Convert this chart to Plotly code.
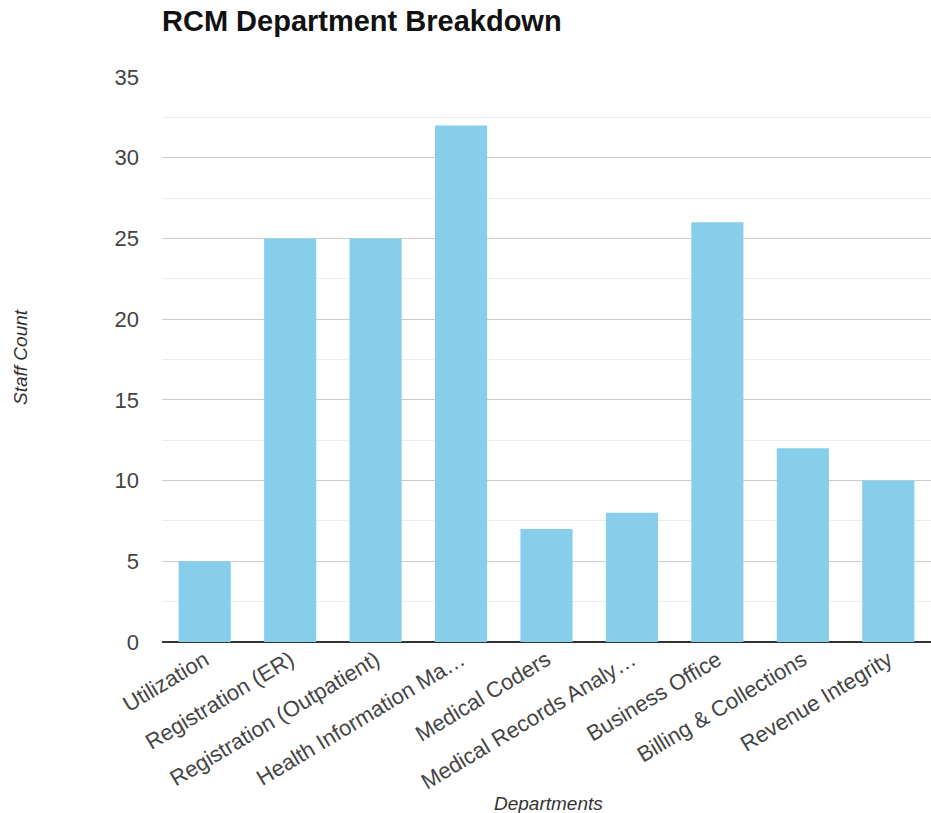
import plotly.graph_objects as go

categories = ["Utilization", "Registration (ER)", "Registration (Outpatient)",
              "Health Information Ma…", "Medical Coders", "Medical Records Analy…",
              "Business Office", "Billing & Collections", "Revenue Integrity"]
staff = [5, 25, 25, 32, 7, 8, 26, 12, 10]
y_ticks = [0, 5, 10, 15, 20, 25, 30, 35]

font_family = "Liberation Sans, Arial, sans-serif"

fig = go.Figure(go.Bar(x=categories, y=staff, marker_color="#87CEEB",
                       marker_line_width=0))

fig.update_layout(
    width=931, height=813,
    margin=dict(l=162, r=0, t=77, b=171),
    paper_bgcolor="white", plot_bgcolor="white",
    bargap=0.39,
    showlegend=False,
    font=dict(family=font_family, color="#444"),
    title=dict(text="<b>RCM Department Breakdown</b>", x=162/931, xanchor="left",
               xref="container", y=1-21/813, yanchor="middle",
               font=dict(size=29, color="#111", family=font_family)),
)
fig.update_xaxes(tickangle=-31, tickfont=dict(size=22, color="#444"),
                 showgrid=False, showline=False, ticks="", automargin=False)
fig.update_yaxes(range=[0, 35], tickvals=y_ticks, tickfont=dict(size=22, color="#444"),
                 showgrid=True, gridcolor="#cccccc", gridwidth=1,
                 minor=dict(dtick=2.5, showgrid=True, gridcolor="#ececec"),
                 zeroline=True, zerolinecolor="#333", zerolinewidth=1.5,
                 ticklabelstandoff=22, automargin=False)

fig.add_annotation(text="<i>Staff Count</i>", xref="paper", yref="paper",
                   x=(20-162)/769, y=(642-357)/565, xanchor="center", yanchor="middle",
                   textangle=-90, showarrow=False,
                   font=dict(size=19, color="#333"))
fig.add_annotation(text="<i>Departments</i>", xref="paper", yref="paper",
                   x=(548-162)/769, y=(642-803)/565, xanchor="center", yanchor="middle",
                   showarrow=False,
                   font=dict(size=19, color="#333"))

fig.write_html("out.html")
